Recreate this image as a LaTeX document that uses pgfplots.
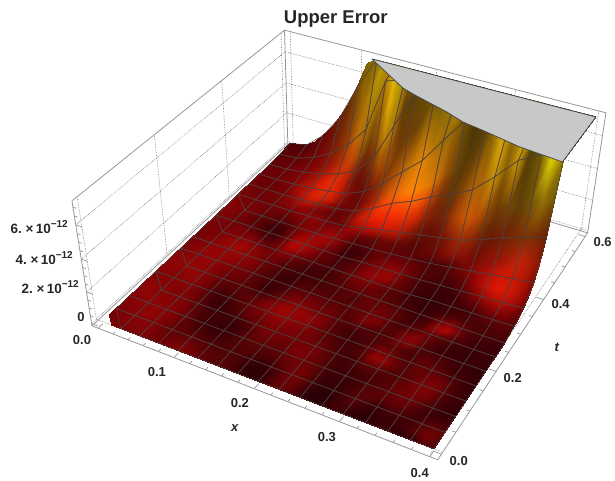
\documentclass[border=0pt]{standalone}
\usepackage{pgfplots}
\usepackage{pgfplotstable}
\usepackage{fontspec}
\setmainfont{Liberation Sans}
\pgfplotsset{compat=1.18}
\pgfplotsset{colormap={mc}{rgb255=(78,64,62) rgb255=(78,64,62)}}
\definecolor{boxc}{RGB}{150,150,150}
\definecolor{dotc}{RGB}{125,125,125}
\definecolor{grayc}{RGB}{200,200,200}
% surface: one row per vertex, z in units of 1e-12, then red and green in percent
% rows run from t=0.6 to t=0, inside each row x runs from 0 to 0.4
\pgfplotstableread{
zv r g
.22 36 0
.31 36 0
.44 38 0
.79 40 1
1.42 45 2
2.06 48 6
3 46 12
4 46 20
5.33 50 30
6.85 54 42
7.2 58 46
7.2 75 63
7.2 72 50
7.2 91 75
7.2 50 40
7.2 50 40
7.2 50 40
7.2 50 40
7.2 50 40
7.2 50 40
7.2 50 40
7.2 50 40
7.2 50 40
7.2 50 40
7.2 50 40
7.2 50 40
7.2 50 40
7.2 50 40
7.2 50 40
7.2 50 40
7.2 50 40
7.2 50 40
7.2 50 40
.14 38 0
.19 38 0
.28 40 0
.49 44 1
.89 48 2
1.29 50 6
1.88 50 12
2.5 52 20
3.34 58 30
4.29 66 44
5.51 72 54
7.2 75 63
7.2 72 50
7.2 91 75
7.2 50 40
7.2 50 40
7.2 50 40
7.2 50 40
7.2 50 40
7.2 50 40
7.2 50 40
7.2 50 40
7.2 50 40
7.2 50 40
7.2 50 40
7.2 50 40
7.2 50 40
7.2 50 40
7.2 50 40
7.2 50 40
7.2 50 40
7.2 50 40
7.2 50 40
.09 40 0
.12 42 0
.17 44 0
.31 46 1
.56 50 2
.81 54 4
1.18 56 10
1.57 58 18
2.09 66 28
2.69 78 44
3.45 70 48
4.82 66 50
6.78 72 50
7.2 91 75
7.2 50 40
7.2 50 40
7.2 50 40
7.2 50 40
7.2 50 40
7.2 50 40
7.2 50 40
7.2 50 40
7.2 50 40
7.2 50 40
7.2 50 40
7.2 50 40
7.2 50 40
7.2 50 40
7.2 50 40
7.2 50 40
7.2 50 40
7.2 50 40
7.2 50 40
.05 42 0
.08 44 0
.11 46 0
.19 48 1
.35 52 2
.5 56 4
.74 60 8
.98 66 14
1.31 76 22
1.68 80 32
2.16 62 34
3.01 50 28
4.24 64 40
5.78 88 70
7.2 75 63
7.2 48 30
7.2 50 40
7.2 50 40
7.2 50 40
7.2 50 40
7.2 50 40
7.2 50 40
7.2 50 40
7.2 50 40
7.2 50 40
7.2 50 40
7.2 50 40
7.2 50 40
7.2 50 40
7.2 50 40
7.2 50 40
7.2 50 40
7.2 50 40
.03 44 0
.05 46 0
.07 48 0
.12 50 1
.22 54 2
.32 60 4
.46 68 8
.61 78 14
.82 86 20
1.05 78 20
1.35 56 16
1.88 46 14
2.65 56 26
3.61 76 50
4.94 72 52
6.18 46 28
7.2 42 29
7.2 44 31
7.2 48 35
7.2 54 42
7.2 50 40
7.2 50 40
7.2 50 40
7.2 50 40
7.2 50 40
7.2 50 40
7.2 50 40
7.2 50 40
7.2 50 40
7.2 50 40
7.2 50 40
7.2 50 40
7.2 50 40
.03 46 0
.03 46 0
.04 48 0
.08 50 1
.14 56 2
.2 64 6
.29 76 10
.38 88 16
.51 94 20
.66 82 16
.84 56 8
1.18 46 6
1.66 50 14
2.26 64 30
3.1 66 34
3.87 50 26
4.85 50 28
5.64 48 30
6.55 58 40
7.2 54 42
7.2 60 46
7.2 69 54
7.2 50 35
7.2 35 25
7.2 40 28
7.2 50 40
7.2 50 40
7.2 50 40
7.2 50 40
7.2 50 40
7.2 50 40
7.2 50 40
7.2 50 40
.03 46 0
.03 46 0
.03 48 0
.05 50 1
.09 56 2
.12 68 8
.18 78 10
.24 88 16
.32 92 20
.41 84 16
.53 62 8
.74 48 4
1.04 46 6
1.42 56 14
1.94 60 26
2.42 68 34
3.04 76 42
3.53 82 50
4.1 90 56
4.82 76 50
5.68 66 46
6.6 62 44
7.2 50 35
7.2 35 25
7.2 40 28
7.2 55 40
7.2 85 69
7.2 60 43
7.2 82 66
7.2 50 40
7.2 50 40
7.2 50 40
7.2 50 40
.03 48 0
.03 46 0
.03 46 0
.03 48 1
.05 54 2
.08 66 6
.11 80 10
.15 86 16
.2 86 18
.26 78 14
.33 60 6
.46 48 3
.65 48 4
.89 60 10
1.21 74 22
1.52 88 36
1.9 94 44
2.21 98 52
2.57 99 55
3.02 92 52
3.56 82 48
4.14 62 34
4.81 46 30
5.56 38 26
6.47 42 28
7.2 55 40
7.2 85 69
7.2 60 43
7.2 82 66
7.2 38 28
7.2 50 38
7.2 90 84
7.2 60 50
.03 50 1
.03 48 1
.03 48 1
.03 48 1
.03 52 2
.05 60 4
.07 72 8
.09 78 12
.13 72 10
.16 62 5
.21 50 3
.29 46 3
.45 50 5
.65 66 12
1 86 18
1.3 96 28
1.7 99 32
1.95 99 38
2.2 99 42
2.5 96 38
2.85 78 30
3.1 54 22
3.4 44 24
3.7 56 30
4.04 72 42
4.58 70 44
5.19 80 60
5.8 58 40
6.51 80 62
7.03 38 28
7.2 50 38
7.2 90 84
7.2 60 50
.03 52 1
.03 50 1
.03 48 1
.03 48 1
.03 50 2
.03 56 3
.04 64 5
.06 62 4
.08 56 3
.1 50 2
.13 44 2
.18 44 2
.28 56 5
.42 76 12
.65 90 14
.85 94 16
1.1 96 18
1.3 94 20
1.5 92 22
1.7 84 20
1.95 62 16
2.1 50 14
2.25 52 16
2.4 72 28
2.6 82 38
2.87 76 34
3.25 60 30
3.63 46 24
4.07 50 30
4.4 42 28
4.73 50 36
5.04 62 48
5.37 50 38
.02 54 1
.02 52 1
.02 50 1
.02 50 1
.02 50 1
.02 50 1
.02 52 2
.02 58 2
.05 62 3
.06 60 3
.08 54 2
.11 46 2
.18 50 2
.28 66 6
.42 74 8
.55 80 10
.7 84 11
.8 80 12
.9 76 12
1 58 10
1.15 46 6
1.25 44 6
1.35 48 8
1.45 56 14
1.6 66 20
1.79 60 18
2.03 48 14
2.27 46 12
2.55 50 14
2.75 52 18
2.96 54 22
3.16 52 20
3.36 46 16
.02 56 1
.02 54 1
.02 52 1
.02 50 1
.02 48 1
.02 46 1
.02 44 1
.02 48 1
.02 54 2
.02 56 2
.05 54 2
.07 58 3
.1 60 3
.14 56 2
.22 46 2
.28 44 2
.35 44 3
.4 46 3
.46 44 3
.52 40 3
.6 40 2
.67 44 3
.76 48 4
.85 56 6
.99 60 8
1.13 56 8
1.28 50 6
1.43 58 8
1.6 62 10
1.73 68 12
1.86 78 16
1.98 72 15
2.11 58 11
0 58 2
0 56 2
0 52 1
0 48 1
0 44 1
0 40 1
0 36 1
0 40 1
0 50 1
0 58 2
0 60 3
0 66 4
.06 66 4
.09 52 1
.12 36 1
.15 36 1
.18 40 1
.21 44 1
.25 44 1
.29 44 1
.34 42 1
.4 38 1
.46 34 1
.53 34 1
.62 38 2
.7 48 3
.8 56 4
.89 66 6
1 78 9
1.08 84 11
1.16 82 12
1.24 74 10
1.32 56 5
0 56 2
0 54 1
0 50 1
0 46 1
0 42 1
0 34 1
0 28 0
0 32 1
0 48 1
0 62 3
0 66 4
0 64 3
0 60 3
0 46 1
.07 30 0
.09 30 0
.11 36 1
.13 46 1
.15 50 1
.18 52 1
.21 50 1
.25 44 1
.29 38 1
.33 34 1
.39 34 1
.44 38 1
.5 48 2
.56 64 4
.63 80 8
.68 88 12
.73 86 12
.78 74 9
.82 54 3
0 54 1
0 52 1
0 50 1
0 46 1
0 44 1
0 36 1
0 28 0
0 30 0
0 50 1
0 72 4
0 72 4
0 62 3
0 52 1
0 42 1
0 30 0
0 32 1
.07 40 1
.08 52 1
.1 58 2
.11 62 3
.13 56 2
.16 44 1
.18 36 1
.21 30 0
.24 30 0
.27 30 0
.31 36 1
.35 50 2
.39 64 4
.42 74 7
.45 78 8
.48 68 5
.51 50 2
0 52 1
0 52 1
0 52 1
0 52 1
0 52 1
0 48 1
0 38 1
0 34 1
0 52 1
0 72 4
0 68 4
0 56 2
0 46 1
0 40 1
0 32 1
0 36 1
0 44 1
0 56 2
0 64 3
0 64 3
.08 54 2
.1 42 1
.11 34 1
.13 28 0
.15 28 0
.17 26 0
.2 30 0
.22 36 1
.25 44 1
.27 54 2
.29 60 3
.31 54 2
.32 44 1
0 50 1
0 52 1
0 54 1
0 56 2
0 60 3
0 62 3
0 54 1
0 44 1
0 50 1
0 58 2
0 54 1
0 46 1
0 40 1
0 38 1
0 34 1
0 38 1
0 46 1
0 56 2
0 58 2
0 52 1
0 46 1
0 38 1
0 30 0
0 26 0
.09 26 0
.11 26 0
.12 28 0
.14 30 0
.15 32 1
.17 38 1
.18 44 1
.19 44 1
.2 40 1
0 48 1
0 52 1
0 56 2
0 60 3
0 64 3
0 66 4
0 62 3
0 54 1
0 50 1
0 48 1
0 42 1
0 36 1
0 32 1
0 30 0
0 32 1
0 36 1
0 42 1
0 46 1
0 48 1
0 44 1
0 40 1
0 36 1
0 32 1
0 28 0
0 26 0
0 28 0
0 32 1
0 34 1
.1 32 1
.1 32 1
.11 34 1
.12 36 1
.13 34 1
0 50 1
0 54 1
0 58 2
0 62 3
0 64 3
0 64 3
0 62 3
0 56 2
0 50 1
0 44 1
0 36 1
0 32 1
0 30 0
0 30 0
0 32 1
0 34 1
0 38 1
0 40 1
0 42 1
0 46 1
0 44 1
0 40 1
0 36 1
0 30 0
0 28 0
0 32 1
0 50 1
0 56 2
0 44 1
0 34 1
0 32 1
0 32 1
0 30 0
0 52 1
0 56 2
0 60 3
0 62 3
0 62 3
0 60 3
0 58 2
0 54 1
0 46 1
0 40 1
0 34 1
0 28 0
0 30 0
0 34 1
0 34 1
0 34 1
0 36 1
0 38 1
0 36 1
0 44 1
0 46 1
0 46 1
0 42 1
0 34 1
0 30 0
0 36 1
0 64 3
0 72 4
0 50 1
0 34 1
0 30 0
0 28 0
0 28 0
0 54 1
0 58 2
0 60 3
0 62 3
0 62 3
0 58 2
0 54 1
0 52 1
0 46 1
0 38 1
0 32 1
0 30 0
0 34 1
0 40 1
0 40 1
0 40 1
0 40 1
0 40 1
0 38 1
0 42 1
0 50 1
0 50 1
0 44 1
0 34 1
0 36 1
0 42 1
0 44 1
0 40 1
0 36 1
0 30 0
0 28 0
0 28 0
0 28 0
0 56 2
0 60 3
0 62 3
0 62 3
0 60 3
0 54 1
0 48 1
0 46 1
0 44 1
0 36 1
0 28 0
0 30 0
0 40 1
0 48 1
0 50 1
0 48 1
0 44 1
0 44 1
0 40 1
0 40 1
0 54 1
0 52 1
0 42 1
0 36 1
0 50 1
0 58 2
0 44 1
0 32 1
0 28 0
0 26 0
0 26 0
0 28 0
0 26 0
0 58 2
0 60 3
0 62 3
0 62 3
0 60 3
0 52 1
0 44 1
0 42 1
0 42 1
0 38 1
0 30 0
0 34 1
0 46 1
0 56 2
0 58 2
0 56 2
0 52 1
0 48 1
0 40 1
0 36 1
0 40 1
0 38 1
0 36 1
0 38 1
0 52 1
0 56 2
0 40 1
0 32 1
0 30 0
0 28 0
0 26 0
0 26 0
0 24 0
0 58 2
0 58 2
0 58 2
0 60 3
0 60 3
0 52 1
0 42 1
0 36 1
0 38 1
0 40 1
0 42 1
0 48 1
0 58 2
0 64 3
0 64 3
0 62 3
0 60 3
0 52 1
0 40 1
0 32 1
0 30 0
0 32 1
0 36 1
0 40 1
0 40 1
0 36 1
0 34 1
0 40 1
0 38 1
0 32 1
0 28 0
0 26 0
0 24 0
0 56 2
0 56 2
0 56 2
0 58 2
0 58 2
0 50 1
0 38 1
0 30 0
0 32 1
0 38 1
0 44 1
0 50 1
0 58 2
0 62 3
0 62 3
0 58 2
0 58 2
0 50 1
0 42 1
0 34 1
0 30 0
0 32 1
0 38 1
0 54 1
0 52 1
0 40 1
0 36 1
0 44 1
0 44 1
0 38 1
0 32 1
0 28 0
0 24 0
0 56 2
0 58 2
0 56 2
0 56 2
0 56 2
0 50 1
0 38 1
0 28 0
0 26 0
0 32 1
0 40 1
0 46 1
0 50 1
0 54 1
0 56 2
0 52 1
0 52 1
0 48 1
0 44 1
0 38 1
0 32 1
0 32 1
0 40 1
0 60 3
0 62 3
0 46 1
0 38 1
0 42 1
0 48 1
0 50 1
0 40 1
0 30 0
0 26 0
0 58 2
0 60 3
0 58 2
0 56 2
0 56 2
0 52 1
0 42 1
0 32 1
0 28 0
0 30 0
0 32 1
0 36 1
0 44 1
0 50 1
0 52 1
0 50 1
0 50 1
0 50 1
0 50 1
0 42 1
0 34 1
0 30 0
0 34 1
0 42 1
0 44 1
0 38 1
0 40 1
0 44 1
0 54 1
0 54 1
0 42 1
0 30 0
0 26 0
0 58 2
0 60 3
0 60 3
0 58 2
0 56 2
0 54 1
0 44 1
0 34 1
0 30 0
0 28 0
0 26 0
0 28 0
0 38 1
0 46 1
0 48 1
0 46 1
0 48 1
0 52 1
0 52 1
0 44 1
0 36 1
0 30 0
0 30 0
0 32 1
0 34 1
0 36 1
0 42 1
0 46 1
0 52 1
0 50 1
0 38 1
0 28 0
0 24 0
0 56 2
0 58 2
0 60 3
0 60 3
0 58 2
0 54 1
0 46 1
0 36 1
0 30 0
0 26 0
0 26 0
0 30 0
0 38 1
0 42 1
0 42 1
0 40 1
0 44 1
0 50 1
0 50 1
0 44 1
0 34 1
0 28 0
0 28 0
0 30 0
0 34 1
0 38 1
0 42 1
0 48 1
0 48 1
0 42 1
0 32 1
0 26 0
0 24 0
0 54 1
0 56 2
0 58 2
0 60 3
0 58 2
0 52 1
0 44 1
0 38 1
0 34 1
0 30 0
0 30 0
0 32 1
0 36 1
0 38 1
0 36 1
0 34 1
0 38 1
0 44 1
0 50 1
0 46 1
0 34 1
0 26 0
0 26 0
0 30 0
0 38 1
0 40 1
0 38 1
0 44 1
0 42 1
0 34 1
0 30 0
0 30 0
0 28 0
0 52 1
0 54 1
0 58 2
0 58 2
0 56 2
0 50 1
0 44 1
0 42 1
0 42 1
0 38 1
0 36 1
0 34 1
0 36 1
0 34 1
0 30 0
0 26 0
0 30 0
0 40 1
0 50 1
0 46 1
0 32 1
0 24 0
0 24 0
0 32 1
0 40 1
0 34 1
0 26 0
0 32 1
0 32 1
0 30 0
0 36 1
0 44 1
0 38 1
0 50 1
0 52 1
0 55 2
0 55 2
0 56 2
0 50 1
0 46 1
0 48 1
0 50 1
0 46 1
0 40 1
0 38 1
0 38 1
0 34 1
0 26 0
0 20 0
0 24 0
0 36 1
0 48 1
0 42 1
0 28 0
0 20 0
0 20 0
0 30 0
0 34 1
0 26 0
0 22 0
0 28 0
0 28 0
0 30 0
0 40 1
0 50 1
0 42 1
0 48 1
0 50 1
0 52 1
0 52 1
0 55 2
0 50 1
0 48 1
0 52 1
0 55 2
0 52 1
0 45 1
0 40 1
0 42 1
0 36 1
0 28 0
0 22 0
0 26 0
0 36 1
0 45 1
0 38 1
0 26 0
0 20 0
0 22 0
0 28 0
0 24 0
0 22 0
0 22 0
0 26 0
0 24 0
0 22 0
0 26 0
0 38 1
0 34 1
}\surfdata
% mesh lines: height at every second vertex of the surface
\pgfplotstableread[row sep=\\]{
zv\\
.22\\.44\\1.42\\3\\5.33\\7.2\\7.2\\7.2\\7.2\\7.2\\7.2\\7.2\\7.2\\7.2\\7.2\\7.2\\7.2\\
.09\\.17\\.56\\1.18\\2.09\\3.45\\6.78\\7.2\\7.2\\7.2\\7.2\\7.2\\7.2\\7.2\\7.2\\7.2\\7.2\\
.03\\.07\\.22\\.46\\.82\\1.35\\2.65\\4.94\\7.2\\7.2\\7.2\\7.2\\7.2\\7.2\\7.2\\7.2\\7.2\\
.03\\.03\\.09\\.18\\.32\\.53\\1.04\\1.94\\3.04\\4.1\\5.68\\7.2\\7.2\\7.2\\7.2\\7.2\\7.2\\
.03\\.03\\.03\\.07\\.13\\.21\\.45\\1\\1.7\\2.2\\2.85\\3.4\\4.04\\5.19\\6.51\\7.2\\7.2\\
.02\\.02\\.02\\.02\\.05\\.08\\.18\\.42\\.7\\.9\\1.15\\1.35\\1.6\\2.03\\2.55\\2.96\\3.36\\
0\\0\\0\\0\\0\\0\\.06\\.12\\.18\\.25\\.34\\.46\\.62\\.8\\1\\1.16\\1.32\\
0\\0\\0\\0\\0\\0\\0\\0\\.07\\.1\\.13\\.18\\.24\\.31\\.39\\.45\\.51\\
0\\0\\0\\0\\0\\0\\0\\0\\0\\0\\0\\0\\.09\\.12\\.15\\.18\\.2\\
0\\0\\0\\0\\0\\0\\0\\0\\0\\0\\0\\0\\0\\0\\0\\0\\0\\
0\\0\\0\\0\\0\\0\\0\\0\\0\\0\\0\\0\\0\\0\\0\\0\\0\\
0\\0\\0\\0\\0\\0\\0\\0\\0\\0\\0\\0\\0\\0\\0\\0\\0\\
0\\0\\0\\0\\0\\0\\0\\0\\0\\0\\0\\0\\0\\0\\0\\0\\0\\
0\\0\\0\\0\\0\\0\\0\\0\\0\\0\\0\\0\\0\\0\\0\\0\\0\\
0\\0\\0\\0\\0\\0\\0\\0\\0\\0\\0\\0\\0\\0\\0\\0\\0\\
0\\0\\0\\0\\0\\0\\0\\0\\0\\0\\0\\0\\0\\0\\0\\0\\0\\
0\\0\\0\\0\\0\\0\\0\\0\\0\\0\\0\\0\\0\\0\\0\\0\\0\\
}\meshdata
% axis frame, in normalised box coordinates
\pgfplotstableread{
u v s
0 0 1
0 1 1
1 1 1
1 1 0
1 0 0
0 0 0
0 0 1
nan nan nan
0 1 1
0 1 0
0 0 0
nan nan nan
0 1 0
1 1 0
}\boxdata
\pgfplotstableread{
u v s
0 .02 0
0 .02 1
nan nan nan
0 .34 0
0 .34 1
nan nan nan
0 .66 0
0 .66 1
nan nan nan
0 .98 0
0 .98 1
nan nan nan
0 0 .02
0 1 .02
nan nan nan
0 0 .2867
0 1 .2867
nan nan nan
0 0 .5533
0 1 .5533
nan nan nan
0 0 .82
0 1 .82
nan nan nan
.02 1 0
.02 1 1
nan nan nan
.26 1 0
.26 1 1
nan nan nan
.5 1 0
.5 1 1
nan nan nan
.74 1 0
.74 1 1
nan nan nan
.98 1 0
.98 1 1
nan nan nan
0 1 .02
1 1 .02
nan nan nan
0 1 .2867
1 1 .2867
nan nan nan
0 1 .5533
1 1 .5533
nan nan nan
0 1 .82
1 1 .82
nan nan nan
.98 0 .02
.98 1 .02
nan nan nan
0 .02 .02
1 .02 .02
}\griddata
% tick marks
\pgfplotstableread{
u v s
.02 0 0
.02 .02 0
nan nan nan
.068 0 0
.068 .01 0
nan nan nan
.116 0 0
.116 .01 0
nan nan nan
.164 0 0
.164 .01 0
nan nan nan
.212 0 0
.212 .01 0
nan nan nan
.26 0 0
.26 .02 0
nan nan nan
.308 0 0
.308 .01 0
nan nan nan
.356 0 0
.356 .01 0
nan nan nan
.404 0 0
.404 .01 0
nan nan nan
.452 0 0
.452 .01 0
nan nan nan
.5 0 0
.5 .02 0
nan nan nan
.548 0 0
.548 .01 0
nan nan nan
.596 0 0
.596 .01 0
nan nan nan
.644 0 0
.644 .01 0
nan nan nan
.692 0 0
.692 .01 0
nan nan nan
.74 0 0
.74 .02 0
nan nan nan
.788 0 0
.788 .01 0
nan nan nan
.836 0 0
.836 .01 0
nan nan nan
.884 0 0
.884 .01 0
nan nan nan
.932 0 0
.932 .01 0
nan nan nan
.98 0 0
.98 .02 0
nan nan nan
1 .02 0
.98 .02 0
nan nan nan
1 .1 0
.99 .1 0
nan nan nan
1 .18 0
.99 .18 0
nan nan nan
1 .26 0
.99 .26 0
nan nan nan
1 .34 0
.98 .34 0
nan nan nan
1 .42 0
.99 .42 0
nan nan nan
1 .5 0
.99 .5 0
nan nan nan
1 .58 0
.99 .58 0
nan nan nan
1 .66 0
.98 .66 0
nan nan nan
1 .74 0
.99 .74 0
nan nan nan
1 .82 0
.99 .82 0
nan nan nan
1 .9 0
.99 .9 0
nan nan nan
1 .98 0
.98 .98 0
nan nan nan
0 0 .02
.02 0 .02
nan nan nan
0 0 .0867
.01 0 .0867
nan nan nan
0 0 .1533
.01 0 .1533
nan nan nan
0 0 .22
.01 0 .22
nan nan nan
0 0 .2867
.02 0 .2867
nan nan nan
0 0 .3533
.01 0 .3533
nan nan nan
0 0 .42
.01 0 .42
nan nan nan
0 0 .4867
.01 0 .4867
nan nan nan
0 0 .5533
.02 0 .5533
nan nan nan
0 0 .62
.01 0 .62
nan nan nan
0 0 .6867
.01 0 .6867
nan nan nan
0 0 .7533
.01 0 .7533
nan nan nan
0 0 .82
.02 0 .82
nan nan nan
0 0 .8867
.01 0 .8867
nan nan nan
0 0 .9533
.01 0 .9533
}\tickdata
% clipped top of the surface
\pgfplotstableread{
u v s
.304 .98 .98
.98 .98 .98
.98 .733 .98
.8576 .7471 .98
.7951 .7625 .98
.738 .7764 .98
.6774 .7895 .98
.618 .8157 .98
.5028 .8555 .98
.4567 .8743 .98
.304 .98 .98
}\topdata
\newcommand{\lab}[3]{\node[font=\fontsize{13}{13}\selectfont\bfseries,text=black!85] at (axis cs:#1,479-#2) {#3};}
\newcommand{\zlab}[3]{\node[anchor=east,inner sep=0pt,font=\fontsize{13.5}{13.5}\selectfont\bfseries,text=black!85] at (axis cs:#1,479-#2) {#3.\;×\,10\raisebox{0.42em}{\fontsize{10}{10}\selectfont −12}};}
\begin{document}
\begin{tikzpicture}
\begin{axis}[
  scale only axis, width=615pt, height=479pt,
  xmin=0, xmax=615, ymin=0, ymax=479, zmin=-1, zmax=8,
  view={0}{90}, hide axis, clip=false,
  point meta min=0, point meta max=1,
  declare function={
    PW(\x,\y,\z)=1-0.11548*\x+0.21107*\y-0.075*\z;
    PX(\x,\y,\z)=(295.42*\x+256.79*\y+92-25.4*\z)/PW(\x,\y,\z);
    PY(\x,\y,\z)=479-(80.88*\x-151.61*\y+326-140.1*\z)/PW(\x,\y,\z);
  },
]
\def\UU{(0.02+0.03*mod(\coordindex,33))}
\def\VV{(0.98-0.03*floor(\coordindex/33))}
\def\SS{(0.02+0.13333*\thisrow{zv})}
\def\UM{(0.02+0.06*mod(\coordindex,17))}
\def\VM{(0.98-0.06*floor(\coordindex/17))}
\def\XX{PX(\thisrow{u},\thisrow{v},\thisrow{s})}
\def\YY{PY(\thisrow{u},\thisrow{v},\thisrow{s})}
% back faces
\addplot3[draw=dotc, line width=0.6pt, densely dotted, no marks, unbounded coords=jump, forget plot]
  table[x expr=\XX, y expr=\YY, z expr=0]{\griddata};
\addplot3[draw=boxc, line width=0.8pt, no marks, unbounded coords=jump, forget plot]
  table[x expr=\XX, y expr=\YY, z expr=0]{\boxdata};
\addplot3[draw=boxc, line width=0.7pt, no marks, unbounded coords=jump, forget plot]
  table[x expr=\XX, y expr=\YY, z expr=0]{\tickdata};
% surface
\addplot3[surf, shader=interp, z buffer=none, mesh/rows=33, mesh/cols=33, mesh/ordering=x varies,
  mesh/color input=explicit mathparse,
  point meta={symbolic={(\thisrow{r}/100)^1.15,(\thisrow{g}/100)^1.1,0.02}}, forget plot]
  table[x expr={PX(\UU,\VV,\SS)}, y expr={PY(\UU,\VV,\SS)}, z expr=0]{\surfdata};
% mesh lines
\addplot3[mesh, colormap name=mc, point meta=0, line width=0.6pt, opacity=0.85, z buffer=none,
  mesh/rows=17, mesh/cols=17, mesh/ordering=x varies, forget plot]
  table[x index=0, y index=0, z index=0, x expr={PX(\UM,\VM,\SS)}, y expr={PY(\UM,\VM,\SS)}, z expr=0]{\meshdata};
% clipped top
\addplot3[fill=grayc, draw=black!75, line width=0.7pt, no marks, forget plot]
  table[x expr=\XX, y expr=\YY, z expr=0]{\topdata};
% page as large as the axis box
\path (axis cs:0,0) (axis cs:615,479);
% text
\node[font=\fontsize{18.5}{18.5}\selectfont\bfseries,text=black!85] at (axis cs:336,479-19) {Upper Error};
\lab{82}{340}{0.0}
\lab{157}{372}{0.1}
\lab{240}{403}{0.2}
\lab{327}{437}{0.3}
\lab{420}{473}{0.4}
\lab{459}{461}{0.0}
\lab{513}{378}{0.2}
\lab{561}{304}{0.4}
\lab{603}{242}{0.6}
\node[font=\fontsize{13}{13}\selectfont\itshape\bfseries,text=black!85] at (axis cs:235,479-428) {x};
\node[font=\fontsize{13}{13}\selectfont\itshape\bfseries,text=black!85] at (axis cs:557,479-348) {t};
\lab{81}{317}{0}
\zlab{79}{287}{2}
\zlab{73}{258}{4}
\zlab{68}{227}{6}
\end{axis}
\end{tikzpicture}
\end{document}
